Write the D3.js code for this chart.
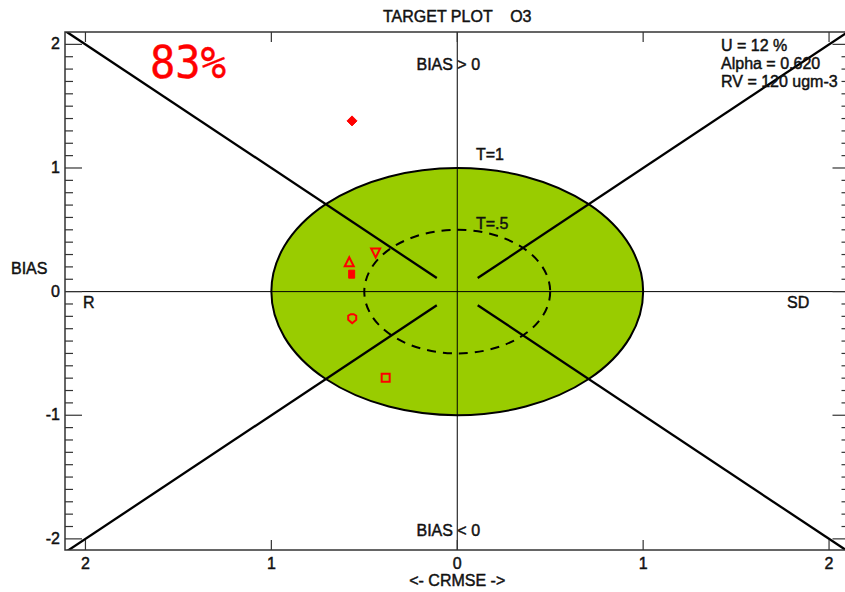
<!DOCTYPE html>
<html>
<head>
<meta charset="utf-8">
<script src="https://cdn.jsdelivr.net/npm/d3@7"></script>
<style>
  html, body { margin: 0; padding: 0; background: #fff; }
  svg { display: block; }
</style>
</head>
<body>
<div id="chart"></div>
<script>
// Target plot for O3: normalised CRMSE (x) vs normalised BIAS (y)
const stations = ["st1", "st2", "st3", "st4", "st5", "st6"];
const crmse = [-0.566, -0.581, -0.568, -0.439, -0.565, -0.385];
const bias = [1.381, 0.238, 0.141, 0.316, -0.215, -0.696];
const markerShapes = ["diamondFilled", "triangleUp", "squareFilled", "triangleDown", "pentagon", "square"];

const xTickValues = [-2, -1, 0, 1, 2];
const xTickLabels = ["2", "1", "0", "1", "2"];
const yTickValues = [-2, -1, 0, 1, 2];
const yTickLabels = ["-2", "-1", "0", "1", "2"];
const targetRadii = [1, 0.5];
const targetLabels = ["T=1", "T=.5"];
const infoLines = ["U = 12 %", "Alpha = 0.620", "RV = 120 ugm-3"];
const scoreText = "83%";
const titleText = "TARGET PLOT    O3";

const W = 845, H = 592;
const FONT = "'Liberation Sans Narrow','Liberation Sans',Arial,sans-serif";
const frame = { left: 65, right: 849.5, top: 32, bottom: 550 };

const x = d3.scaleLinear().domain([-2.11, 2.11]).range([frame.left, frame.right]);
const y = d3.scaleLinear().domain([-2.09, 2.1]).range([frame.bottom, frame.top]);

const svg = d3.select("#chart").append("svg")
  .attr("width", W).attr("height", H)
  .attr("viewBox", `0 0 ${W} ${H}`);

svg.append("defs").append("clipPath").attr("id", "plotClip")
  .append("rect")
  .attr("x", frame.left).attr("y", frame.top)
  .attr("width", frame.right - frame.left).attr("height", frame.bottom - frame.top);

const plot = svg.append("g").attr("clip-path", "url(#plotClip)");

// Outer target (T=1) filled
const r1 = targetRadii[0];
plot.append("ellipse")
  .attr("cx", x(0)).attr("cy", y(0))
  .attr("rx", x(r1) - x(0)).attr("ry", y(0) - y(r1))
  .attr("fill", "#99cc00")
  .attr("stroke", "#000").attr("stroke-width", 2);

// Inner target (T=.5) dashed
const r2 = targetRadii[1];
plot.append("ellipse")
  .attr("cx", x(0)).attr("cy", y(0))
  .attr("rx", x(r2) - x(0)).attr("ry", y(0) - y(r2))
  .attr("fill", "none")
  .attr("stroke", "#000").attr("stroke-width", 2)
  .attr("stroke-dasharray", "9,7");

// Center cross lines
plot.append("line")
  .attr("x1", x(0)).attr("x2", x(0)).attr("y1", frame.top).attr("y2", frame.bottom)
  .attr("stroke", "#000").attr("stroke-width", 1);
plot.append("line")
  .attr("x1", frame.left).attr("x2", frame.right).attr("y1", y(0)).attr("y2", y(0))
  .attr("stroke", "#000").attr("stroke-width", 1);

// Diagonal lines |BIAS| = |CRMSE| from near the origin out to the corners
const diagStart = 0.11, diagEnd = 2.3;
[[-1, 1], [1, 1], [-1, -1], [1, -1]].forEach(([sx, sy]) => {
  plot.append("line")
    .attr("x1", x(sx * diagStart)).attr("y1", y(sy * diagStart))
    .attr("x2", x(sx * diagEnd)).attr("y2", y(sy * diagEnd))
    .attr("stroke", "#000").attr("stroke-width", 2.3);
});

// Frame
svg.append("rect")
  .attr("x", frame.left).attr("y", frame.top)
  .attr("width", frame.right - frame.left).attr("height", frame.bottom - frame.top)
  .attr("fill", "none").attr("stroke", "#333").attr("stroke-width", 1.5);

// Left and right axes: major ticks at integers, minor every 0.1
const minorY = d3.range(-20, 21).map(v => v / 10);
const axisG = svg.append("g").attr("stroke", "#333").attr("stroke-width", 1.2);
minorY.forEach(v => {
  const major = Math.abs(v - Math.round(v)) < 1e-9;
  const len = major ? 17 : 8;
  axisG.append("line").attr("x1", frame.left).attr("x2", frame.left + len)
    .attr("y1", y(v)).attr("y2", y(v));
  axisG.append("line").attr("x1", frame.right).attr("x2", frame.right - len)
    .attr("y1", y(v)).attr("y2", y(v));
});
// Top and bottom axes: major ticks only
xTickValues.forEach(v => {
  axisG.append("line").attr("x1", x(v)).attr("x2", x(v))
    .attr("y1", frame.bottom).attr("y2", frame.bottom - 10);
  axisG.append("line").attr("x1", x(v)).attr("x2", x(v))
    .attr("y1", frame.top).attr("y2", frame.top + 10);
});

const txt = (s, px, py, opts = {}) => svg.append("text")
  .attr("x", px).attr("y", py)
  .attr("font-family", opts.family || FONT)
  .attr("font-size", opts.size || 16)
  .attr("font-weight", opts.weight || "normal")
  .attr("fill", opts.fill || "#111")
  .attr("stroke", opts.fill || "#111")
  .attr("stroke-width", opts.sw != null ? opts.sw : 0.45)
  .attr("text-anchor", opts.anchor || "start")
  .text(s);

yTickValues.forEach((v, i) => txt(yTickLabels[i], 60, y(v) + 5, { anchor: "end" }));
xTickValues.forEach((v, i) => txt(xTickLabels[i], x(v), 569, { anchor: "middle" }));

txt(titleText, x(0), 22, { anchor: "middle", size: 16 }).style("white-space", "pre");
txt("BIAS > 0", x(0) - 9, 70, { anchor: "middle" });
txt("BIAS < 0", x(0) - 9, 536, { anchor: "middle" });
txt("BIAS", 11, 274);
txt("R", 83, 308);
txt("SD", 787, 308);
txt("<- CRMSE ->", x(0), 586, { anchor: "middle" });
txt(targetLabels[0], 476, 160);
txt(targetLabels[1], 476, 229);

infoLines.forEach((s, i) => txt(s, 721, 51 + i * 18, { size: 16 }));

txt(scoreText, 150, 78, { family: "'DejaVu Sans Mono',monospace", size: 44, fill: "#ff0000", sw: 0.4 })
  .attr("textLength", 76).attr("lengthAdjust", "spacingAndGlyphs");

// Station markers
const shapePath = {
  diamondFilled: "M0,-5L5,0L0,5L-5,0Z",
  triangleUp: "M0,-5L4.5,4L-4.5,4Z",
  squareFilled: "M-3,-4H3V4H-3Z",
  triangleDown: "M-4.5,-4H4.5L0,5Z",
  pentagon: "M0,5L-4,1.5L-4,-2.5L-1.5,-4L1.5,-4L4,-2.5L4,1.5Z",
  square: "M-4,-4H4V4H-4Z"
};
const filled = new Set(["diamondFilled", "squareFilled"]);

svg.append("g").selectAll("path")
  .data(stations.map((s, i) => ({ s, cx: crmse[i], b: bias[i], shape: markerShapes[i] })))
  .join("path")
  .attr("transform", d => `translate(${x(d.cx)},${y(d.b)})`)
  .attr("d", d => shapePath[d.shape])
  .attr("fill", d => filled.has(d.shape) ? "#ff0000" : "none")
  .attr("stroke", "#ff0000")
  .attr("stroke-width", d => filled.has(d.shape) ? 1 : 2);
</script>
</body>
</html>
